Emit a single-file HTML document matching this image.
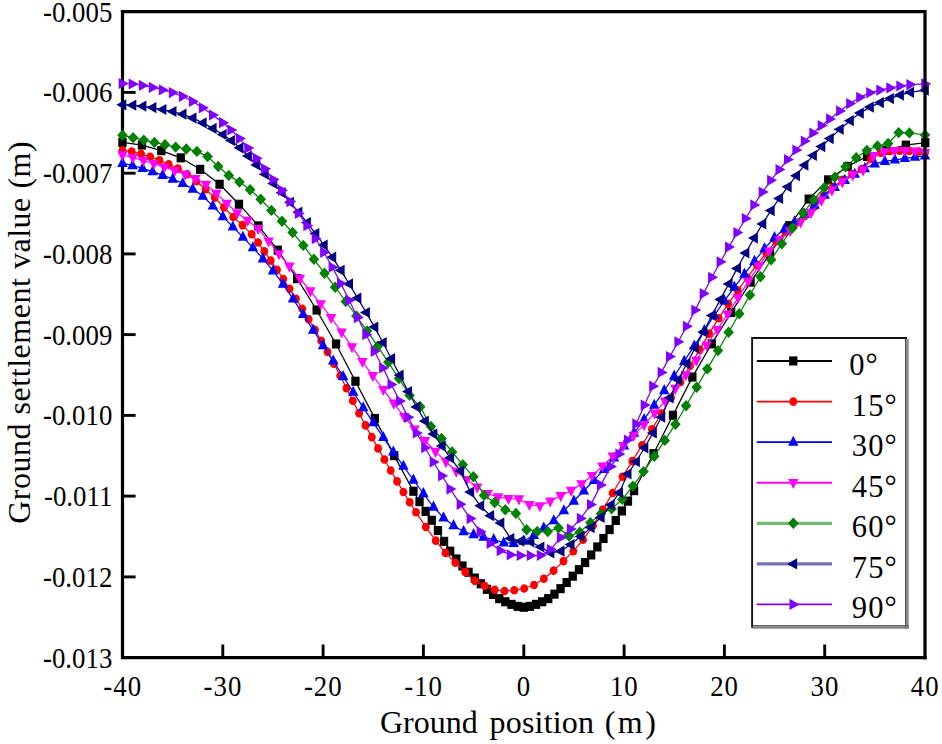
<!DOCTYPE html>
<html><head><meta charset="utf-8"><title>Ground settlement</title>
<style>html,body{margin:0;padding:0;background:#fff;}svg{display:block;}</style>
</head><body>
<svg width="942" height="744" viewBox="0 0 942 744" font-family="'Liberation Serif', serif" fill="#000">
<rect x="0" y="0" width="942" height="744" fill="#fff"/>
<path d="M122.5,10.1 L122.5,657.6 L926.6,657.6" fill="none" stroke="#000" stroke-width="3.2" stroke-linejoin="miter"/>
<text transform="translate(112.3,21.6) scale(0.925,1)" font-size="29" text-anchor="end">-0.005</text>
<line x1="122.5" y1="92.4" x2="135.6" y2="92.4" stroke="#000" stroke-width="2.9"/>
<text transform="translate(112.3,102.3) scale(0.925,1)" font-size="29" text-anchor="end">-0.006</text>
<line x1="122.5" y1="173.2" x2="135.6" y2="173.2" stroke="#000" stroke-width="2.9"/>
<text transform="translate(112.3,183.1) scale(0.925,1)" font-size="29" text-anchor="end">-0.007</text>
<line x1="122.5" y1="253.9" x2="135.6" y2="253.9" stroke="#000" stroke-width="2.9"/>
<text transform="translate(112.3,263.8) scale(0.925,1)" font-size="29" text-anchor="end">-0.008</text>
<line x1="122.5" y1="334.6" x2="135.6" y2="334.6" stroke="#000" stroke-width="2.9"/>
<text transform="translate(112.3,344.5) scale(0.925,1)" font-size="29" text-anchor="end">-0.009</text>
<line x1="122.5" y1="415.4" x2="135.6" y2="415.4" stroke="#000" stroke-width="2.9"/>
<text transform="translate(112.3,425.3) scale(0.925,1)" font-size="29" text-anchor="end">-0.010</text>
<line x1="122.5" y1="496.1" x2="135.6" y2="496.1" stroke="#000" stroke-width="2.9"/>
<text transform="translate(112.3,506.0) scale(0.925,1)" font-size="29" text-anchor="end">-0.011</text>
<line x1="122.5" y1="576.9" x2="135.6" y2="576.9" stroke="#000" stroke-width="2.9"/>
<text transform="translate(112.3,586.8) scale(0.925,1)" font-size="29" text-anchor="end">-0.012</text>
<text transform="translate(112.3,667.5) scale(0.925,1)" font-size="29" text-anchor="end">-0.013</text>
<text transform="translate(122.7,696.2) scale(0.925,1)" font-size="29" letter-spacing="1.1" text-anchor="middle">-40</text>
<line x1="222.8" y1="657.6" x2="222.8" y2="644.5" stroke="#000" stroke-width="2.9"/>
<text transform="translate(223.0,696.2) scale(0.925,1)" font-size="29" letter-spacing="1.1" text-anchor="middle">-30</text>
<line x1="323.1" y1="657.6" x2="323.1" y2="644.5" stroke="#000" stroke-width="2.9"/>
<text transform="translate(323.3,696.2) scale(0.925,1)" font-size="29" letter-spacing="1.1" text-anchor="middle">-20</text>
<line x1="423.4" y1="657.6" x2="423.4" y2="644.5" stroke="#000" stroke-width="2.9"/>
<text transform="translate(423.6,696.2) scale(0.925,1)" font-size="29" letter-spacing="1.1" text-anchor="middle">-10</text>
<line x1="523.8" y1="657.6" x2="523.8" y2="644.5" stroke="#000" stroke-width="2.9"/>
<text transform="translate(524.0,696.2) scale(0.925,1)" font-size="29" letter-spacing="1.1" text-anchor="middle">0</text>
<line x1="624.1" y1="657.6" x2="624.1" y2="644.5" stroke="#000" stroke-width="2.9"/>
<text transform="translate(624.3,696.2) scale(0.925,1)" font-size="29" letter-spacing="1.1" text-anchor="middle">10</text>
<line x1="724.4" y1="657.6" x2="724.4" y2="644.5" stroke="#000" stroke-width="2.9"/>
<text transform="translate(724.6,696.2) scale(0.925,1)" font-size="29" letter-spacing="1.1" text-anchor="middle">20</text>
<line x1="824.7" y1="657.6" x2="824.7" y2="644.5" stroke="#000" stroke-width="2.9"/>
<text transform="translate(824.9,696.2) scale(0.925,1)" font-size="29" letter-spacing="1.1" text-anchor="middle">30</text>
<text transform="translate(925.2,696.2) scale(0.925,1)" font-size="29" letter-spacing="1.1" text-anchor="middle">40</text>
<clipPath id="pc"><rect x="114.5" y="11.7" width="818.5" height="645.9"/></clipPath>
<g clip-path="url(#pc)">
<polyline points="122.5,142.4 141.9,145.1 161.3,150.6 180.7,157.8 200.1,169.3 219.6,184.3 239.0,204.2 258.4,225.8 277.8,250.2 297.2,278.6 316.6,310.0 336.0,344.0 355.4,381.2 374.8,418.4 394.2,455.6 413.4,491.2 419.5,501.7 425.7,511.3 431.8,520.2 437.9,530.5 444.1,541.3 450.2,551.2 456.3,559.0 462.4,565.9 468.6,572.3 474.7,578.0 480.8,583.7 487.0,589.3 493.1,594.4 499.2,598.7 505.4,601.7 511.5,604.3 517.6,606.4 523.8,607.2 529.9,606.4 536.0,604.4 542.1,601.7 548.3,598.6 554.4,594.1 560.5,588.7 566.7,582.5 572.8,576.2 578.9,569.6 585.1,562.5 591.2,555.0 597.3,546.9 603.4,538.4 609.6,529.6 615.7,520.4 621.8,511.0 628.0,501.2 634.1,490.6 653.5,453.7 672.9,415.2 692.3,377.1 711.7,343.8 731.1,312.6 750.6,282.2 770.0,253.4 789.4,225.6 808.8,199.0 828.2,179.9 847.6,166.4 867.0,156.5 886.4,150.1 905.8,145.2 925.3,142.7" fill="none" stroke="#000000" stroke-width="1.25"/>
<g><rect x="118.3" y="137.8" width="8.3" height="9.1" fill="#000000"/><rect x="137.8" y="140.5" width="8.3" height="9.1" fill="#000000"/><rect x="157.2" y="146.1" width="8.3" height="9.1" fill="#000000"/><rect x="176.6" y="153.3" width="8.3" height="9.1" fill="#000000"/><rect x="196.0" y="164.8" width="8.3" height="9.1" fill="#000000"/><rect x="215.4" y="179.7" width="8.3" height="9.1" fill="#000000"/><rect x="234.8" y="199.7" width="8.3" height="9.1" fill="#000000"/><rect x="254.2" y="221.3" width="8.3" height="9.1" fill="#000000"/><rect x="273.6" y="245.6" width="8.3" height="9.1" fill="#000000"/><rect x="293.0" y="274.1" width="8.3" height="9.1" fill="#000000"/><rect x="312.5" y="305.5" width="8.3" height="9.1" fill="#000000"/><rect x="331.9" y="339.4" width="8.3" height="9.1" fill="#000000"/><rect x="351.3" y="376.7" width="8.3" height="9.1" fill="#000000"/><rect x="370.7" y="413.9" width="8.3" height="9.1" fill="#000000"/><rect x="390.1" y="451.1" width="8.3" height="9.1" fill="#000000"/><rect x="409.3" y="486.7" width="8.3" height="9.1" fill="#000000"/><rect x="415.4" y="497.1" width="8.3" height="9.1" fill="#000000"/><rect x="421.5" y="506.8" width="8.3" height="9.1" fill="#000000"/><rect x="427.6" y="515.7" width="8.3" height="9.1" fill="#000000"/><rect x="433.8" y="526.0" width="8.3" height="9.1" fill="#000000"/><rect x="439.9" y="536.8" width="8.3" height="9.1" fill="#000000"/><rect x="446.0" y="546.6" width="8.3" height="9.1" fill="#000000"/><rect x="452.2" y="554.4" width="8.3" height="9.1" fill="#000000"/><rect x="458.3" y="561.4" width="8.3" height="9.1" fill="#000000"/><rect x="464.4" y="567.7" width="8.3" height="9.1" fill="#000000"/><rect x="470.6" y="573.5" width="8.3" height="9.1" fill="#000000"/><rect x="476.7" y="579.2" width="8.3" height="9.1" fill="#000000"/><rect x="482.8" y="584.8" width="8.3" height="9.1" fill="#000000"/><rect x="488.9" y="589.9" width="8.3" height="9.1" fill="#000000"/><rect x="495.1" y="594.1" width="8.3" height="9.1" fill="#000000"/><rect x="501.2" y="597.2" width="8.3" height="9.1" fill="#000000"/><rect x="507.3" y="599.8" width="8.3" height="9.1" fill="#000000"/><rect x="513.5" y="601.8" width="8.3" height="9.1" fill="#000000"/><rect x="519.6" y="602.7" width="8.3" height="9.1" fill="#000000"/><rect x="525.7" y="601.8" width="8.3" height="9.1" fill="#000000"/><rect x="531.9" y="599.8" width="8.3" height="9.1" fill="#000000"/><rect x="538.0" y="597.2" width="8.3" height="9.1" fill="#000000"/><rect x="544.1" y="594.1" width="8.3" height="9.1" fill="#000000"/><rect x="550.3" y="589.6" width="8.3" height="9.1" fill="#000000"/><rect x="556.4" y="584.1" width="8.3" height="9.1" fill="#000000"/><rect x="562.5" y="578.0" width="8.3" height="9.1" fill="#000000"/><rect x="568.6" y="571.6" width="8.3" height="9.1" fill="#000000"/><rect x="574.8" y="565.1" width="8.3" height="9.1" fill="#000000"/><rect x="580.9" y="558.0" width="8.3" height="9.1" fill="#000000"/><rect x="587.0" y="550.4" width="8.3" height="9.1" fill="#000000"/><rect x="593.2" y="542.4" width="8.3" height="9.1" fill="#000000"/><rect x="599.3" y="533.9" width="8.3" height="9.1" fill="#000000"/><rect x="605.4" y="525.0" width="8.3" height="9.1" fill="#000000"/><rect x="611.6" y="515.9" width="8.3" height="9.1" fill="#000000"/><rect x="617.7" y="506.4" width="8.3" height="9.1" fill="#000000"/><rect x="623.8" y="496.6" width="8.3" height="9.1" fill="#000000"/><rect x="629.9" y="486.1" width="8.3" height="9.1" fill="#000000"/><rect x="649.4" y="449.1" width="8.3" height="9.1" fill="#000000"/><rect x="668.8" y="410.7" width="8.3" height="9.1" fill="#000000"/><rect x="688.2" y="372.5" width="8.3" height="9.1" fill="#000000"/><rect x="707.6" y="339.3" width="8.3" height="9.1" fill="#000000"/><rect x="727.0" y="308.0" width="8.3" height="9.1" fill="#000000"/><rect x="746.4" y="277.6" width="8.3" height="9.1" fill="#000000"/><rect x="765.8" y="248.9" width="8.3" height="9.1" fill="#000000"/><rect x="785.2" y="221.1" width="8.3" height="9.1" fill="#000000"/><rect x="804.6" y="194.5" width="8.3" height="9.1" fill="#000000"/><rect x="824.0" y="175.3" width="8.3" height="9.1" fill="#000000"/><rect x="843.5" y="161.9" width="8.3" height="9.1" fill="#000000"/><rect x="862.9" y="152.0" width="8.3" height="9.1" fill="#000000"/><rect x="882.3" y="145.6" width="8.3" height="9.1" fill="#000000"/><rect x="901.7" y="140.6" width="8.3" height="9.1" fill="#000000"/><rect x="921.1" y="138.1" width="8.3" height="9.1" fill="#000000"/></g>
<polyline points="122.5,150.4 131.7,151.6 141.0,153.8 150.2,156.8 159.4,160.3 168.6,164.2 177.9,168.6 187.1,174.3 196.3,181.3 205.6,189.2 214.8,197.6 224.0,207.5 233.2,217.0 242.5,225.1 251.7,234.3 258.0,242.5 264.3,251.4 270.7,260.6 277.0,269.7 283.3,279.1 289.6,288.8 295.9,298.7 302.3,308.8 308.6,319.2 314.9,329.9 321.2,340.7 327.5,351.9 333.9,363.6 340.2,375.8 346.5,388.3 352.8,400.8 359.1,413.2 365.5,425.4 371.8,437.1 378.1,448.4 384.4,459.5 390.7,470.5 397.1,481.4 403.4,492.0 409.7,502.3 416.0,512.3 425.8,527.0 435.7,540.6 445.5,552.9 455.3,562.7 465.2,572.0 475.0,580.9 484.8,586.0 494.7,589.7 504.5,591.0 514.3,590.2 524.2,588.5 534.0,585.0 543.8,578.7 553.6,570.6 563.5,561.1 573.3,551.2 583.1,539.8 593.0,525.5 602.8,509.6 612.6,493.0 622.5,476.7 632.3,461.1 642.1,445.2 651.9,429.2 661.5,413.5 671.0,397.8 680.5,382.0 690.1,365.8 699.6,349.6 709.1,333.6 718.7,318.2 728.2,303.9 737.7,290.4 747.2,277.5 756.8,265.0 766.3,252.9 775.8,241.1 785.4,232.0 794.9,224.0 804.4,216.1 814.0,207.0 823.5,195.8 833.0,187.0 842.5,179.9 852.1,174.0 861.6,169.1 871.1,158.8 880.7,152.7 890.2,151.0 899.7,150.7 909.3,150.9 918.8,151.5 925.0,152.4" fill="none" stroke="#ff0000" stroke-width="1.25"/>
<g><ellipse cx="122.5" cy="150.4" rx="3.95" ry="4.3" fill="#ff0000"/><ellipse cx="131.7" cy="151.6" rx="3.95" ry="4.3" fill="#ff0000"/><ellipse cx="141.0" cy="153.8" rx="3.95" ry="4.3" fill="#ff0000"/><ellipse cx="150.2" cy="156.8" rx="3.95" ry="4.3" fill="#ff0000"/><ellipse cx="159.4" cy="160.3" rx="3.95" ry="4.3" fill="#ff0000"/><ellipse cx="168.6" cy="164.2" rx="3.95" ry="4.3" fill="#ff0000"/><ellipse cx="177.9" cy="168.6" rx="3.95" ry="4.3" fill="#ff0000"/><ellipse cx="187.1" cy="174.3" rx="3.95" ry="4.3" fill="#ff0000"/><ellipse cx="196.3" cy="181.3" rx="3.95" ry="4.3" fill="#ff0000"/><ellipse cx="205.6" cy="189.2" rx="3.95" ry="4.3" fill="#ff0000"/><ellipse cx="214.8" cy="197.6" rx="3.95" ry="4.3" fill="#ff0000"/><ellipse cx="224.0" cy="207.5" rx="3.95" ry="4.3" fill="#ff0000"/><ellipse cx="233.2" cy="217.0" rx="3.95" ry="4.3" fill="#ff0000"/><ellipse cx="242.5" cy="225.1" rx="3.95" ry="4.3" fill="#ff0000"/><ellipse cx="251.7" cy="234.3" rx="3.95" ry="4.3" fill="#ff0000"/><ellipse cx="258.0" cy="242.5" rx="3.95" ry="4.3" fill="#ff0000"/><ellipse cx="264.3" cy="251.4" rx="3.95" ry="4.3" fill="#ff0000"/><ellipse cx="270.7" cy="260.6" rx="3.95" ry="4.3" fill="#ff0000"/><ellipse cx="277.0" cy="269.7" rx="3.95" ry="4.3" fill="#ff0000"/><ellipse cx="283.3" cy="279.1" rx="3.95" ry="4.3" fill="#ff0000"/><ellipse cx="289.6" cy="288.8" rx="3.95" ry="4.3" fill="#ff0000"/><ellipse cx="295.9" cy="298.7" rx="3.95" ry="4.3" fill="#ff0000"/><ellipse cx="302.3" cy="308.8" rx="3.95" ry="4.3" fill="#ff0000"/><ellipse cx="308.6" cy="319.2" rx="3.95" ry="4.3" fill="#ff0000"/><ellipse cx="314.9" cy="329.9" rx="3.95" ry="4.3" fill="#ff0000"/><ellipse cx="321.2" cy="340.7" rx="3.95" ry="4.3" fill="#ff0000"/><ellipse cx="327.5" cy="351.9" rx="3.95" ry="4.3" fill="#ff0000"/><ellipse cx="333.9" cy="363.6" rx="3.95" ry="4.3" fill="#ff0000"/><ellipse cx="340.2" cy="375.8" rx="3.95" ry="4.3" fill="#ff0000"/><ellipse cx="346.5" cy="388.3" rx="3.95" ry="4.3" fill="#ff0000"/><ellipse cx="352.8" cy="400.8" rx="3.95" ry="4.3" fill="#ff0000"/><ellipse cx="359.1" cy="413.2" rx="3.95" ry="4.3" fill="#ff0000"/><ellipse cx="365.5" cy="425.4" rx="3.95" ry="4.3" fill="#ff0000"/><ellipse cx="371.8" cy="437.1" rx="3.95" ry="4.3" fill="#ff0000"/><ellipse cx="378.1" cy="448.4" rx="3.95" ry="4.3" fill="#ff0000"/><ellipse cx="384.4" cy="459.5" rx="3.95" ry="4.3" fill="#ff0000"/><ellipse cx="390.7" cy="470.5" rx="3.95" ry="4.3" fill="#ff0000"/><ellipse cx="397.1" cy="481.4" rx="3.95" ry="4.3" fill="#ff0000"/><ellipse cx="403.4" cy="492.0" rx="3.95" ry="4.3" fill="#ff0000"/><ellipse cx="409.7" cy="502.3" rx="3.95" ry="4.3" fill="#ff0000"/><ellipse cx="416.0" cy="512.3" rx="3.95" ry="4.3" fill="#ff0000"/><ellipse cx="425.8" cy="527.0" rx="3.95" ry="4.3" fill="#ff0000"/><ellipse cx="435.7" cy="540.6" rx="3.95" ry="4.3" fill="#ff0000"/><ellipse cx="445.5" cy="552.9" rx="3.95" ry="4.3" fill="#ff0000"/><ellipse cx="455.3" cy="562.7" rx="3.95" ry="4.3" fill="#ff0000"/><ellipse cx="465.2" cy="572.0" rx="3.95" ry="4.3" fill="#ff0000"/><ellipse cx="475.0" cy="580.9" rx="3.95" ry="4.3" fill="#ff0000"/><ellipse cx="484.8" cy="586.0" rx="3.95" ry="4.3" fill="#ff0000"/><ellipse cx="494.7" cy="589.7" rx="3.95" ry="4.3" fill="#ff0000"/><ellipse cx="504.5" cy="591.0" rx="3.95" ry="4.3" fill="#ff0000"/><ellipse cx="514.3" cy="590.2" rx="3.95" ry="4.3" fill="#ff0000"/><ellipse cx="524.2" cy="588.5" rx="3.95" ry="4.3" fill="#ff0000"/><ellipse cx="534.0" cy="585.0" rx="3.95" ry="4.3" fill="#ff0000"/><ellipse cx="543.8" cy="578.7" rx="3.95" ry="4.3" fill="#ff0000"/><ellipse cx="553.6" cy="570.6" rx="3.95" ry="4.3" fill="#ff0000"/><ellipse cx="563.5" cy="561.1" rx="3.95" ry="4.3" fill="#ff0000"/><ellipse cx="573.3" cy="551.2" rx="3.95" ry="4.3" fill="#ff0000"/><ellipse cx="583.1" cy="539.8" rx="3.95" ry="4.3" fill="#ff0000"/><ellipse cx="593.0" cy="525.5" rx="3.95" ry="4.3" fill="#ff0000"/><ellipse cx="602.8" cy="509.6" rx="3.95" ry="4.3" fill="#ff0000"/><ellipse cx="612.6" cy="493.0" rx="3.95" ry="4.3" fill="#ff0000"/><ellipse cx="622.5" cy="476.7" rx="3.95" ry="4.3" fill="#ff0000"/><ellipse cx="632.3" cy="461.1" rx="3.95" ry="4.3" fill="#ff0000"/><ellipse cx="642.1" cy="445.2" rx="3.95" ry="4.3" fill="#ff0000"/><ellipse cx="651.9" cy="429.2" rx="3.95" ry="4.3" fill="#ff0000"/><ellipse cx="661.5" cy="413.5" rx="3.95" ry="4.3" fill="#ff0000"/><ellipse cx="671.0" cy="397.8" rx="3.95" ry="4.3" fill="#ff0000"/><ellipse cx="680.5" cy="382.0" rx="3.95" ry="4.3" fill="#ff0000"/><ellipse cx="690.1" cy="365.8" rx="3.95" ry="4.3" fill="#ff0000"/><ellipse cx="699.6" cy="349.6" rx="3.95" ry="4.3" fill="#ff0000"/><ellipse cx="709.1" cy="333.6" rx="3.95" ry="4.3" fill="#ff0000"/><ellipse cx="718.7" cy="318.2" rx="3.95" ry="4.3" fill="#ff0000"/><ellipse cx="728.2" cy="303.9" rx="3.95" ry="4.3" fill="#ff0000"/><ellipse cx="737.7" cy="290.4" rx="3.95" ry="4.3" fill="#ff0000"/><ellipse cx="747.2" cy="277.5" rx="3.95" ry="4.3" fill="#ff0000"/><ellipse cx="756.8" cy="265.0" rx="3.95" ry="4.3" fill="#ff0000"/><ellipse cx="766.3" cy="252.9" rx="3.95" ry="4.3" fill="#ff0000"/><ellipse cx="775.8" cy="241.1" rx="3.95" ry="4.3" fill="#ff0000"/><ellipse cx="785.4" cy="232.0" rx="3.95" ry="4.3" fill="#ff0000"/><ellipse cx="794.9" cy="224.0" rx="3.95" ry="4.3" fill="#ff0000"/><ellipse cx="804.4" cy="216.1" rx="3.95" ry="4.3" fill="#ff0000"/><ellipse cx="814.0" cy="207.0" rx="3.95" ry="4.3" fill="#ff0000"/><ellipse cx="823.5" cy="195.8" rx="3.95" ry="4.3" fill="#ff0000"/><ellipse cx="833.0" cy="187.0" rx="3.95" ry="4.3" fill="#ff0000"/><ellipse cx="842.5" cy="179.9" rx="3.95" ry="4.3" fill="#ff0000"/><ellipse cx="852.1" cy="174.0" rx="3.95" ry="4.3" fill="#ff0000"/><ellipse cx="861.6" cy="169.1" rx="3.95" ry="4.3" fill="#ff0000"/><ellipse cx="871.1" cy="158.8" rx="3.95" ry="4.3" fill="#ff0000"/><ellipse cx="880.7" cy="152.7" rx="3.95" ry="4.3" fill="#ff0000"/><ellipse cx="890.2" cy="151.0" rx="3.95" ry="4.3" fill="#ff0000"/><ellipse cx="899.7" cy="150.7" rx="3.95" ry="4.3" fill="#ff0000"/><ellipse cx="909.3" cy="150.9" rx="3.95" ry="4.3" fill="#ff0000"/><ellipse cx="918.8" cy="151.5" rx="3.95" ry="4.3" fill="#ff0000"/><ellipse cx="925.0" cy="152.4" rx="3.95" ry="4.3" fill="#ff0000"/></g>
<polyline points="122.5,163.2 132.5,165.5 142.6,168.3 152.6,171.6 162.6,175.2 172.7,179.0 182.7,183.4 192.7,189.0 202.8,196.1 212.8,205.9 222.8,216.6 232.8,226.8 242.9,237.1 252.9,247.6 262.9,258.7 273.0,270.7 283.0,284.1 293.0,298.8 303.1,314.3 313.1,330.0 323.1,345.5 333.2,360.9 343.2,376.5 353.2,392.1 363.2,407.6 373.3,422.6 383.3,437.3 393.3,451.8 403.4,466.1 413.4,480.0 423.4,493.5 433.5,507.0 443.5,517.7 453.5,525.5 463.6,531.5 473.6,534.5 483.6,537.1 493.7,539.5 503.7,542.7 513.7,543.2 523.8,541.0 533.8,535.2 543.8,527.8 553.8,520.6 563.9,510.6 573.9,501.0 583.9,490.8 594.0,480.3 604.0,469.3 614.0,457.8 624.1,445.8 634.1,433.0 644.1,419.3 654.2,405.1 664.2,390.5 674.2,376.0 684.2,361.2 694.3,345.9 704.3,330.5 714.3,315.4 724.4,300.9 734.4,287.2 744.4,274.0 754.5,261.2 764.5,248.6 774.5,237.5 784.6,229.0 794.6,221.7 804.6,214.2 814.7,205.0 824.7,195.0 834.7,187.2 844.8,180.2 854.8,174.1 864.8,168.5 874.8,163.8 884.9,161.4 894.9,159.8 904.9,158.4 915.0,157.0 925.0,155.8" fill="none" stroke="#0000ff" stroke-width="1.25"/>
<g><polygon points="122.5,156.8 127.7,166.9 117.3,166.9" fill="#0000ff"/><polygon points="132.5,159.1 137.7,169.2 127.3,169.2" fill="#0000ff"/><polygon points="142.6,161.9 147.8,172.0 137.4,172.0" fill="#0000ff"/><polygon points="152.6,165.2 157.8,175.3 147.4,175.3" fill="#0000ff"/><polygon points="162.6,168.8 167.8,178.9 157.4,178.9" fill="#0000ff"/><polygon points="172.7,172.6 177.9,182.7 167.5,182.7" fill="#0000ff"/><polygon points="182.7,177.0 187.9,187.1 177.5,187.1" fill="#0000ff"/><polygon points="192.7,182.6 197.9,192.7 187.5,192.7" fill="#0000ff"/><polygon points="202.8,189.7 207.9,199.8 197.6,199.8" fill="#0000ff"/><polygon points="212.8,199.5 218.0,209.6 207.6,209.6" fill="#0000ff"/><polygon points="222.8,210.2 228.0,220.3 217.6,220.3" fill="#0000ff"/><polygon points="232.8,220.4 238.0,230.5 227.6,230.5" fill="#0000ff"/><polygon points="242.9,230.7 248.1,240.8 237.7,240.8" fill="#0000ff"/><polygon points="252.9,241.2 258.1,251.3 247.7,251.3" fill="#0000ff"/><polygon points="262.9,252.3 268.1,262.4 257.7,262.4" fill="#0000ff"/><polygon points="273.0,264.3 278.2,274.4 267.8,274.4" fill="#0000ff"/><polygon points="283.0,277.7 288.2,287.8 277.8,287.8" fill="#0000ff"/><polygon points="293.0,292.4 298.2,302.5 287.8,302.5" fill="#0000ff"/><polygon points="303.1,307.9 308.3,318.0 297.9,318.0" fill="#0000ff"/><polygon points="313.1,323.6 318.3,333.7 307.9,333.7" fill="#0000ff"/><polygon points="323.1,339.1 328.3,349.2 317.9,349.2" fill="#0000ff"/><polygon points="333.2,354.5 338.4,364.6 328.0,364.6" fill="#0000ff"/><polygon points="343.2,370.1 348.4,380.2 338.0,380.2" fill="#0000ff"/><polygon points="353.2,385.7 358.4,395.8 348.0,395.8" fill="#0000ff"/><polygon points="363.2,401.2 368.4,411.3 358.1,411.3" fill="#0000ff"/><polygon points="373.3,416.2 378.5,426.3 368.1,426.3" fill="#0000ff"/><polygon points="383.3,430.9 388.5,441.0 378.1,441.0" fill="#0000ff"/><polygon points="393.3,445.4 398.5,455.5 388.1,455.5" fill="#0000ff"/><polygon points="403.4,459.7 408.6,469.8 398.2,469.8" fill="#0000ff"/><polygon points="413.4,473.6 418.6,483.7 408.2,483.7" fill="#0000ff"/><polygon points="423.4,487.1 428.6,497.2 418.2,497.2" fill="#0000ff"/><polygon points="433.5,500.6 438.7,510.7 428.3,510.7" fill="#0000ff"/><polygon points="443.5,511.3 448.7,521.4 438.3,521.4" fill="#0000ff"/><polygon points="453.5,519.1 458.7,529.2 448.3,529.2" fill="#0000ff"/><polygon points="463.6,525.1 468.8,535.2 458.4,535.2" fill="#0000ff"/><polygon points="473.6,528.1 478.8,538.2 468.4,538.2" fill="#0000ff"/><polygon points="483.6,530.7 488.8,540.8 478.4,540.8" fill="#0000ff"/><polygon points="493.7,533.1 498.9,543.2 488.5,543.2" fill="#0000ff"/><polygon points="503.7,536.3 508.9,546.4 498.5,546.4" fill="#0000ff"/><polygon points="513.7,536.8 518.9,546.9 508.5,546.9" fill="#0000ff"/><polygon points="523.8,534.6 529.0,544.7 518.5,544.7" fill="#0000ff"/><polygon points="533.8,528.8 539.0,538.9 528.6,538.9" fill="#0000ff"/><polygon points="543.8,521.4 549.0,531.5 538.6,531.5" fill="#0000ff"/><polygon points="553.8,514.2 559.0,524.3 548.6,524.3" fill="#0000ff"/><polygon points="563.9,504.2 569.1,514.3 558.7,514.3" fill="#0000ff"/><polygon points="573.9,494.6 579.1,504.7 568.7,504.7" fill="#0000ff"/><polygon points="583.9,484.4 589.1,494.5 578.7,494.5" fill="#0000ff"/><polygon points="594.0,473.9 599.2,484.0 588.8,484.0" fill="#0000ff"/><polygon points="604.0,462.9 609.2,473.0 598.8,473.0" fill="#0000ff"/><polygon points="614.0,451.4 619.2,461.5 608.8,461.5" fill="#0000ff"/><polygon points="624.1,439.4 629.3,449.5 618.9,449.5" fill="#0000ff"/><polygon points="634.1,426.6 639.3,436.7 628.9,436.7" fill="#0000ff"/><polygon points="644.1,412.9 649.3,423.0 638.9,423.0" fill="#0000ff"/><polygon points="654.2,398.7 659.4,408.8 649.0,408.8" fill="#0000ff"/><polygon points="664.2,384.1 669.4,394.2 659.0,394.2" fill="#0000ff"/><polygon points="674.2,369.6 679.4,379.7 669.0,379.7" fill="#0000ff"/><polygon points="684.2,354.8 689.5,364.9 679.0,364.9" fill="#0000ff"/><polygon points="694.3,339.5 699.5,349.6 689.1,349.6" fill="#0000ff"/><polygon points="704.3,324.1 709.5,334.2 699.1,334.2" fill="#0000ff"/><polygon points="714.3,309.0 719.5,319.1 709.1,319.1" fill="#0000ff"/><polygon points="724.4,294.5 729.6,304.6 719.2,304.6" fill="#0000ff"/><polygon points="734.4,280.8 739.6,290.9 729.2,290.9" fill="#0000ff"/><polygon points="744.4,267.6 749.6,277.7 739.2,277.7" fill="#0000ff"/><polygon points="754.5,254.8 759.7,264.9 749.3,264.9" fill="#0000ff"/><polygon points="764.5,242.2 769.7,252.3 759.3,252.3" fill="#0000ff"/><polygon points="774.5,231.1 779.7,241.2 769.3,241.2" fill="#0000ff"/><polygon points="784.6,222.6 789.8,232.7 779.4,232.7" fill="#0000ff"/><polygon points="794.6,215.3 799.8,225.4 789.4,225.4" fill="#0000ff"/><polygon points="804.6,207.8 809.8,217.9 799.4,217.9" fill="#0000ff"/><polygon points="814.7,198.6 819.9,208.7 809.5,208.7" fill="#0000ff"/><polygon points="824.7,188.6 829.9,198.7 819.5,198.7" fill="#0000ff"/><polygon points="834.7,180.8 839.9,190.9 829.5,190.9" fill="#0000ff"/><polygon points="844.8,173.8 850.0,183.9 839.5,183.9" fill="#0000ff"/><polygon points="854.8,167.7 860.0,177.8 849.6,177.8" fill="#0000ff"/><polygon points="864.8,162.1 870.0,172.2 859.6,172.2" fill="#0000ff"/><polygon points="874.8,157.4 880.0,167.5 869.6,167.5" fill="#0000ff"/><polygon points="884.9,155.0 890.1,165.1 879.7,165.1" fill="#0000ff"/><polygon points="894.9,153.4 900.1,163.5 889.7,163.5" fill="#0000ff"/><polygon points="904.9,152.0 910.1,162.1 899.7,162.1" fill="#0000ff"/><polygon points="915.0,150.6 920.2,160.7 909.8,160.7" fill="#0000ff"/><polygon points="925.0,149.4 930.2,159.5 919.8,159.5" fill="#0000ff"/></g>
<polyline points="122.5,155.0 132.9,157.6 143.4,160.5 153.8,163.7 164.2,167.1 174.7,170.7 185.1,174.4 195.5,178.7 206.0,184.5 216.4,193.4 226.8,203.4 237.3,212.9 247.7,220.4 258.1,228.7 268.6,241.1 279.0,253.9 289.4,266.3 299.9,278.5 310.3,291.0 320.7,303.9 331.1,317.6 341.6,332.1 352.0,346.9 362.4,361.6 372.9,375.8 383.3,389.6 393.7,403.3 404.2,416.6 414.6,429.2 425.0,440.7 435.5,451.5 445.9,461.8 456.3,471.3 466.8,479.8 477.2,487.2 487.6,493.7 498.1,497.0 508.5,498.7 518.9,499.0 529.4,504.6 539.8,505.9 550.2,501.1 560.7,495.8 571.1,490.5 581.5,483.9 592.0,475.6 602.4,466.2 612.8,456.1 623.3,445.8 633.7,435.4 644.1,424.6 654.6,413.1 665.0,401.1 675.4,388.5 685.9,374.9 696.3,360.4 706.7,345.2 717.2,329.7 727.6,314.2 738.0,297.8 748.4,281.4 758.9,266.0 769.3,251.3 779.7,239.7 790.2,230.6 800.6,222.2 811.0,212.8 821.5,200.3 831.9,190.0 842.3,181.8 852.8,175.0 863.2,170.0 873.6,155.8 884.1,152.0 894.5,150.7 904.9,150.7 915.4,151.2 925.0,152.4" fill="none" stroke="#ff00ff" stroke-width="1.25"/>
<g><polygon points="122.5,161.4 127.7,151.3 117.3,151.3" fill="#ff00ff"/><polygon points="132.9,164.0 138.1,153.9 127.7,153.9" fill="#ff00ff"/><polygon points="143.4,166.9 148.6,156.8 138.2,156.8" fill="#ff00ff"/><polygon points="153.8,170.1 159.0,160.0 148.6,160.0" fill="#ff00ff"/><polygon points="164.2,173.5 169.4,163.4 159.0,163.4" fill="#ff00ff"/><polygon points="174.7,177.1 179.9,167.0 169.5,167.0" fill="#ff00ff"/><polygon points="185.1,180.8 190.3,170.7 179.9,170.7" fill="#ff00ff"/><polygon points="195.5,185.1 200.7,175.0 190.3,175.0" fill="#ff00ff"/><polygon points="206.0,190.9 211.2,180.8 200.8,180.8" fill="#ff00ff"/><polygon points="216.4,199.8 221.6,189.7 211.2,189.7" fill="#ff00ff"/><polygon points="226.8,209.8 232.0,199.7 221.6,199.7" fill="#ff00ff"/><polygon points="237.3,219.3 242.5,209.2 232.1,209.2" fill="#ff00ff"/><polygon points="247.7,226.8 252.9,216.7 242.5,216.7" fill="#ff00ff"/><polygon points="258.1,235.1 263.3,225.0 252.9,225.0" fill="#ff00ff"/><polygon points="268.6,247.5 273.8,237.4 263.4,237.4" fill="#ff00ff"/><polygon points="279.0,260.3 284.2,250.2 273.8,250.2" fill="#ff00ff"/><polygon points="289.4,272.7 294.6,262.6 284.2,262.6" fill="#ff00ff"/><polygon points="299.9,284.9 305.1,274.8 294.7,274.8" fill="#ff00ff"/><polygon points="310.3,297.4 315.5,287.3 305.1,287.3" fill="#ff00ff"/><polygon points="320.7,310.3 325.9,300.2 315.5,300.2" fill="#ff00ff"/><polygon points="331.1,324.0 336.3,313.9 325.9,313.9" fill="#ff00ff"/><polygon points="341.6,338.5 346.8,328.4 336.4,328.4" fill="#ff00ff"/><polygon points="352.0,353.3 357.2,343.2 346.8,343.2" fill="#ff00ff"/><polygon points="362.4,368.0 367.6,357.9 357.2,357.9" fill="#ff00ff"/><polygon points="372.9,382.2 378.1,372.1 367.7,372.1" fill="#ff00ff"/><polygon points="383.3,396.0 388.5,385.9 378.1,385.9" fill="#ff00ff"/><polygon points="393.7,409.7 398.9,399.6 388.5,399.6" fill="#ff00ff"/><polygon points="404.2,423.0 409.4,412.9 399.0,412.9" fill="#ff00ff"/><polygon points="414.6,435.6 419.8,425.5 409.4,425.5" fill="#ff00ff"/><polygon points="425.0,447.1 430.2,437.0 419.8,437.0" fill="#ff00ff"/><polygon points="435.5,457.9 440.7,447.8 430.3,447.8" fill="#ff00ff"/><polygon points="445.9,468.2 451.1,458.1 440.7,458.1" fill="#ff00ff"/><polygon points="456.3,477.7 461.5,467.6 451.1,467.6" fill="#ff00ff"/><polygon points="466.8,486.2 472.0,476.1 461.6,476.1" fill="#ff00ff"/><polygon points="477.2,493.6 482.4,483.5 472.0,483.5" fill="#ff00ff"/><polygon points="487.6,500.1 492.8,490.0 482.4,490.0" fill="#ff00ff"/><polygon points="498.1,503.4 503.3,493.3 492.9,493.3" fill="#ff00ff"/><polygon points="508.5,505.1 513.7,495.0 503.3,495.0" fill="#ff00ff"/><polygon points="518.9,505.4 524.1,495.3 513.7,495.3" fill="#ff00ff"/><polygon points="529.4,511.0 534.6,500.9 524.2,500.9" fill="#ff00ff"/><polygon points="539.8,512.3 545.0,502.2 534.6,502.2" fill="#ff00ff"/><polygon points="550.2,507.5 555.4,497.4 545.0,497.4" fill="#ff00ff"/><polygon points="560.7,502.2 565.9,492.1 555.5,492.1" fill="#ff00ff"/><polygon points="571.1,496.9 576.3,486.8 565.9,486.8" fill="#ff00ff"/><polygon points="581.5,490.3 586.7,480.2 576.3,480.2" fill="#ff00ff"/><polygon points="592.0,482.0 597.2,471.9 586.8,471.9" fill="#ff00ff"/><polygon points="602.4,472.6 607.6,462.5 597.2,462.5" fill="#ff00ff"/><polygon points="612.8,462.5 618.0,452.4 607.6,452.4" fill="#ff00ff"/><polygon points="623.3,452.2 628.5,442.1 618.1,442.1" fill="#ff00ff"/><polygon points="633.7,441.8 638.9,431.7 628.5,431.7" fill="#ff00ff"/><polygon points="644.1,431.0 649.3,420.9 638.9,420.9" fill="#ff00ff"/><polygon points="654.6,419.5 659.8,409.4 649.4,409.4" fill="#ff00ff"/><polygon points="665.0,407.5 670.2,397.4 659.8,397.4" fill="#ff00ff"/><polygon points="675.4,394.9 680.6,384.8 670.2,384.8" fill="#ff00ff"/><polygon points="685.9,381.3 691.1,371.2 680.7,371.2" fill="#ff00ff"/><polygon points="696.3,366.8 701.5,356.7 691.1,356.7" fill="#ff00ff"/><polygon points="706.7,351.6 711.9,341.5 701.5,341.5" fill="#ff00ff"/><polygon points="717.2,336.1 722.4,326.0 712.0,326.0" fill="#ff00ff"/><polygon points="727.6,320.6 732.8,310.5 722.4,310.5" fill="#ff00ff"/><polygon points="738.0,304.2 743.2,294.1 732.8,294.1" fill="#ff00ff"/><polygon points="748.4,287.8 753.6,277.7 743.2,277.7" fill="#ff00ff"/><polygon points="758.9,272.4 764.1,262.3 753.7,262.3" fill="#ff00ff"/><polygon points="769.3,257.7 774.5,247.6 764.1,247.6" fill="#ff00ff"/><polygon points="779.7,246.1 784.9,236.0 774.5,236.0" fill="#ff00ff"/><polygon points="790.2,237.0 795.4,226.9 785.0,226.9" fill="#ff00ff"/><polygon points="800.6,228.6 805.8,218.5 795.4,218.5" fill="#ff00ff"/><polygon points="811.0,219.2 816.2,209.1 805.8,209.1" fill="#ff00ff"/><polygon points="821.5,206.7 826.7,196.6 816.3,196.6" fill="#ff00ff"/><polygon points="831.9,196.4 837.1,186.3 826.7,186.3" fill="#ff00ff"/><polygon points="842.3,188.2 847.5,178.1 837.1,178.1" fill="#ff00ff"/><polygon points="852.8,181.4 858.0,171.3 847.6,171.3" fill="#ff00ff"/><polygon points="863.2,176.4 868.4,166.3 858.0,166.3" fill="#ff00ff"/><polygon points="873.6,162.2 878.8,152.1 868.4,152.1" fill="#ff00ff"/><polygon points="884.1,158.4 889.3,148.3 878.9,148.3" fill="#ff00ff"/><polygon points="894.5,157.1 899.7,147.0 889.3,147.0" fill="#ff00ff"/><polygon points="904.9,157.1 910.1,147.0 899.7,147.0" fill="#ff00ff"/><polygon points="915.4,157.6 920.6,147.5 910.2,147.5" fill="#ff00ff"/><polygon points="925.0,158.8 930.2,148.7 919.8,148.7" fill="#ff00ff"/></g>
<polyline points="122.5,135.3 133.1,137.7 143.8,140.1 154.4,142.4 165.0,144.8 175.7,147.1 186.3,149.0 196.9,151.4 207.6,156.6 218.2,166.5 228.8,175.4 239.5,182.1 250.1,189.7 260.7,199.2 271.4,210.4 282.0,221.3 292.6,232.5 303.3,245.4 313.9,259.3 324.5,273.2 335.2,287.2 345.8,301.5 356.4,316.0 367.1,330.9 377.7,346.2 388.3,362.3 399.0,378.6 409.6,395.4 420.2,406.8 430.9,426.5 441.5,438.5 452.1,451.9 462.8,464.8 473.4,476.8 484.0,495.4 494.7,502.5 505.3,509.7 515.9,513.4 526.6,529.8 537.2,531.5 547.8,531.5 558.5,527.9 569.1,536.0 579.7,532.2 590.4,522.6 601.0,513.7 611.6,508.7 622.3,499.4 632.9,486.1 643.5,471.6 654.2,456.3 664.8,440.4 675.4,424.2 686.1,405.7 696.7,387.3 707.3,368.9 718.0,350.6 728.6,332.3 739.2,313.7 749.9,295.0 760.5,276.8 771.1,259.7 781.8,243.7 792.4,228.1 803.0,213.3 813.7,199.7 824.3,187.8 834.9,177.1 845.6,166.8 856.2,157.7 866.8,150.5 877.5,145.9 888.1,143.5 898.7,132.6 909.4,132.9 925.0,135.0" fill="none" stroke="#008000" stroke-width="1.25"/>
<g><polygon points="122.5,129.6 127.8,135.3 122.5,141.0 117.2,135.3" fill="#008000"/><polygon points="133.1,132.0 138.4,137.7 133.1,143.4 127.8,137.7" fill="#008000"/><polygon points="143.8,134.4 149.1,140.1 143.8,145.8 138.5,140.1" fill="#008000"/><polygon points="154.4,136.7 159.7,142.4 154.4,148.1 149.1,142.4" fill="#008000"/><polygon points="165.0,139.1 170.3,144.8 165.0,150.5 159.7,144.8" fill="#008000"/><polygon points="175.7,141.4 181.0,147.1 175.7,152.8 170.4,147.1" fill="#008000"/><polygon points="186.3,143.3 191.6,149.0 186.3,154.7 181.0,149.0" fill="#008000"/><polygon points="196.9,145.7 202.2,151.4 196.9,157.1 191.6,151.4" fill="#008000"/><polygon points="207.6,150.9 212.9,156.6 207.6,162.3 202.3,156.6" fill="#008000"/><polygon points="218.2,160.8 223.5,166.5 218.2,172.2 212.9,166.5" fill="#008000"/><polygon points="228.8,169.7 234.1,175.4 228.8,181.1 223.5,175.4" fill="#008000"/><polygon points="239.5,176.4 244.8,182.1 239.5,187.8 234.2,182.1" fill="#008000"/><polygon points="250.1,184.0 255.4,189.7 250.1,195.4 244.8,189.7" fill="#008000"/><polygon points="260.7,193.5 266.0,199.2 260.7,204.9 255.4,199.2" fill="#008000"/><polygon points="271.4,204.7 276.7,210.4 271.4,216.1 266.1,210.4" fill="#008000"/><polygon points="282.0,215.6 287.3,221.3 282.0,227.0 276.7,221.3" fill="#008000"/><polygon points="292.6,226.8 297.9,232.5 292.6,238.2 287.3,232.5" fill="#008000"/><polygon points="303.3,239.7 308.6,245.4 303.3,251.1 298.0,245.4" fill="#008000"/><polygon points="313.9,253.6 319.2,259.3 313.9,265.0 308.6,259.3" fill="#008000"/><polygon points="324.5,267.5 329.8,273.2 324.5,278.9 319.2,273.2" fill="#008000"/><polygon points="335.2,281.5 340.5,287.2 335.2,292.9 329.9,287.2" fill="#008000"/><polygon points="345.8,295.8 351.1,301.5 345.8,307.2 340.5,301.5" fill="#008000"/><polygon points="356.4,310.3 361.7,316.0 356.4,321.7 351.1,316.0" fill="#008000"/><polygon points="367.1,325.2 372.4,330.9 367.1,336.6 361.8,330.9" fill="#008000"/><polygon points="377.7,340.5 383.0,346.2 377.7,351.9 372.4,346.2" fill="#008000"/><polygon points="388.3,356.6 393.6,362.3 388.3,368.0 383.0,362.3" fill="#008000"/><polygon points="399.0,372.9 404.3,378.6 399.0,384.3 393.7,378.6" fill="#008000"/><polygon points="409.6,389.7 414.9,395.4 409.6,401.1 404.3,395.4" fill="#008000"/><polygon points="420.2,401.1 425.5,406.8 420.2,412.5 414.9,406.8" fill="#008000"/><polygon points="430.9,420.8 436.2,426.5 430.9,432.2 425.6,426.5" fill="#008000"/><polygon points="441.5,432.8 446.8,438.5 441.5,444.2 436.2,438.5" fill="#008000"/><polygon points="452.1,446.2 457.4,451.9 452.1,457.6 446.8,451.9" fill="#008000"/><polygon points="462.8,459.1 468.1,464.8 462.8,470.5 457.5,464.8" fill="#008000"/><polygon points="473.4,471.1 478.7,476.8 473.4,482.5 468.1,476.8" fill="#008000"/><polygon points="484.0,489.7 489.3,495.4 484.0,501.1 478.7,495.4" fill="#008000"/><polygon points="494.7,496.8 500.0,502.5 494.7,508.2 489.4,502.5" fill="#008000"/><polygon points="505.3,504.0 510.6,509.7 505.3,515.4 500.0,509.7" fill="#008000"/><polygon points="515.9,507.7 521.2,513.4 515.9,519.1 510.6,513.4" fill="#008000"/><polygon points="526.6,524.1 531.9,529.8 526.6,535.5 521.3,529.8" fill="#008000"/><polygon points="537.2,525.8 542.5,531.5 537.2,537.2 531.9,531.5" fill="#008000"/><polygon points="547.8,525.8 553.1,531.5 547.8,537.2 542.5,531.5" fill="#008000"/><polygon points="558.5,522.2 563.8,527.9 558.5,533.6 553.2,527.9" fill="#008000"/><polygon points="569.1,530.3 574.4,536.0 569.1,541.7 563.8,536.0" fill="#008000"/><polygon points="579.7,526.5 585.0,532.2 579.7,537.9 574.4,532.2" fill="#008000"/><polygon points="590.4,516.9 595.7,522.6 590.4,528.3 585.1,522.6" fill="#008000"/><polygon points="601.0,508.0 606.3,513.7 601.0,519.4 595.7,513.7" fill="#008000"/><polygon points="611.6,503.0 616.9,508.7 611.6,514.4 606.3,508.7" fill="#008000"/><polygon points="622.3,493.7 627.6,499.4 622.3,505.1 617.0,499.4" fill="#008000"/><polygon points="632.9,480.4 638.2,486.1 632.9,491.8 627.6,486.1" fill="#008000"/><polygon points="643.5,465.9 648.8,471.6 643.5,477.3 638.2,471.6" fill="#008000"/><polygon points="654.2,450.6 659.5,456.3 654.2,462.0 648.9,456.3" fill="#008000"/><polygon points="664.8,434.7 670.1,440.4 664.8,446.1 659.5,440.4" fill="#008000"/><polygon points="675.4,418.5 680.7,424.2 675.4,429.9 670.1,424.2" fill="#008000"/><polygon points="686.1,400.0 691.4,405.7 686.1,411.4 680.8,405.7" fill="#008000"/><polygon points="696.7,381.6 702.0,387.3 696.7,393.0 691.4,387.3" fill="#008000"/><polygon points="707.3,363.2 712.6,368.9 707.3,374.6 702.0,368.9" fill="#008000"/><polygon points="718.0,344.9 723.3,350.6 718.0,356.3 712.7,350.6" fill="#008000"/><polygon points="728.6,326.6 733.9,332.3 728.6,338.0 723.3,332.3" fill="#008000"/><polygon points="739.2,308.0 744.5,313.7 739.2,319.4 733.9,313.7" fill="#008000"/><polygon points="749.9,289.3 755.2,295.0 749.9,300.7 744.6,295.0" fill="#008000"/><polygon points="760.5,271.1 765.8,276.8 760.5,282.5 755.2,276.8" fill="#008000"/><polygon points="771.1,254.0 776.4,259.7 771.1,265.4 765.8,259.7" fill="#008000"/><polygon points="781.8,238.0 787.1,243.7 781.8,249.4 776.5,243.7" fill="#008000"/><polygon points="792.4,222.4 797.7,228.1 792.4,233.8 787.1,228.1" fill="#008000"/><polygon points="803.0,207.6 808.3,213.3 803.0,219.0 797.7,213.3" fill="#008000"/><polygon points="813.7,194.0 819.0,199.7 813.7,205.4 808.4,199.7" fill="#008000"/><polygon points="824.3,182.1 829.6,187.8 824.3,193.5 819.0,187.8" fill="#008000"/><polygon points="834.9,171.4 840.2,177.1 834.9,182.8 829.6,177.1" fill="#008000"/><polygon points="845.6,161.1 850.9,166.8 845.6,172.5 840.3,166.8" fill="#008000"/><polygon points="856.2,152.0 861.5,157.7 856.2,163.4 850.9,157.7" fill="#008000"/><polygon points="866.8,144.8 872.1,150.5 866.8,156.2 861.5,150.5" fill="#008000"/><polygon points="877.5,140.2 882.8,145.9 877.5,151.6 872.2,145.9" fill="#008000"/><polygon points="888.1,137.8 893.4,143.5 888.1,149.2 882.8,143.5" fill="#008000"/><polygon points="898.7,126.9 904.0,132.6 898.7,138.3 893.4,132.6" fill="#008000"/><polygon points="909.4,127.2 914.7,132.9 909.4,138.6 904.1,132.9" fill="#008000"/><polygon points="925.0,129.3 930.3,135.0 925.0,140.7 919.7,135.0" fill="#008000"/></g>
<polyline points="122.5,104.8 132.5,105.2 142.6,106.2 152.6,107.6 162.6,109.5 172.7,111.5 182.7,114.2 192.7,118.1 202.8,122.9 212.8,128.4 222.8,134.5 231.2,140.5 239.7,147.8 248.1,156.1 256.5,165.0 264.9,174.2 273.4,183.4 281.8,192.7 290.2,202.3 298.6,212.2 307.1,222.6 315.5,233.6 323.9,245.0 332.4,257.2 340.8,270.3 349.2,283.9 357.6,298.1 366.1,312.5 374.5,327.1 382.9,342.5 391.3,358.7 399.8,375.2 408.2,391.5 416.6,406.9 425.0,421.1 433.5,434.0 441.9,446.1 450.3,457.8 460.4,470.9 470.4,492.1 480.4,505.8 490.4,515.7 500.5,523.0 510.5,538.5 520.5,541.2 530.6,541.8 540.6,547.0 550.6,552.9 560.7,551.2 570.7,544.6 580.7,536.4 590.8,527.6 600.8,517.4 610.8,504.9 619.2,492.7 627.7,474.0 636.1,461.7 644.5,447.8 653.0,432.9 661.4,417.2 669.8,397.8 678.2,379.9 686.7,363.7 695.1,348.0 703.5,331.9 711.9,315.5 720.4,299.4 728.8,283.9 737.2,268.4 745.6,253.0 754.1,238.1 762.5,223.9 770.9,210.6 779.3,198.4 787.8,186.8 796.2,175.7 804.6,165.2 813.1,155.5 821.5,146.6 829.9,138.6 839.9,129.3 850.0,120.7 860.0,113.1 870.0,107.1 880.1,102.6 890.1,98.6 900.1,95.1 910.2,92.3 925.0,90.2" fill="none" stroke="#000080" stroke-width="1.25"/>
<g><polygon points="116.3,104.8 126.3,99.2 126.3,110.4" fill="#000080"/><polygon points="126.3,105.2 136.3,99.6 136.3,110.8" fill="#000080"/><polygon points="136.4,106.2 146.4,100.6 146.4,111.8" fill="#000080"/><polygon points="146.4,107.6 156.4,102.0 156.4,113.2" fill="#000080"/><polygon points="156.4,109.5 166.4,103.9 166.4,115.1" fill="#000080"/><polygon points="166.5,111.5 176.5,105.9 176.5,117.1" fill="#000080"/><polygon points="176.5,114.2 186.5,108.6 186.5,119.8" fill="#000080"/><polygon points="186.5,118.1 196.5,112.5 196.5,123.7" fill="#000080"/><polygon points="196.6,122.9 206.6,117.3 206.6,128.5" fill="#000080"/><polygon points="206.6,128.4 216.6,122.8 216.6,134.0" fill="#000080"/><polygon points="216.6,134.5 226.6,128.9 226.6,140.1" fill="#000080"/><polygon points="225.0,140.5 235.0,134.9 235.0,146.1" fill="#000080"/><polygon points="233.5,147.8 243.5,142.2 243.5,153.4" fill="#000080"/><polygon points="241.9,156.1 251.9,150.5 251.9,161.7" fill="#000080"/><polygon points="250.3,165.0 260.3,159.4 260.3,170.6" fill="#000080"/><polygon points="258.7,174.2 268.7,168.6 268.7,179.8" fill="#000080"/><polygon points="267.2,183.4 277.2,177.8 277.2,189.0" fill="#000080"/><polygon points="275.6,192.7 285.6,187.1 285.6,198.3" fill="#000080"/><polygon points="284.0,202.3 294.0,196.7 294.0,207.9" fill="#000080"/><polygon points="292.4,212.2 302.4,206.6 302.4,217.8" fill="#000080"/><polygon points="300.9,222.6 310.9,217.0 310.9,228.2" fill="#000080"/><polygon points="309.3,233.6 319.3,228.0 319.3,239.2" fill="#000080"/><polygon points="317.7,245.0 327.7,239.4 327.7,250.6" fill="#000080"/><polygon points="326.2,257.2 336.2,251.6 336.2,262.8" fill="#000080"/><polygon points="334.6,270.3 344.6,264.7 344.6,275.9" fill="#000080"/><polygon points="343.0,283.9 353.0,278.3 353.0,289.5" fill="#000080"/><polygon points="351.4,298.1 361.4,292.5 361.4,303.7" fill="#000080"/><polygon points="359.9,312.5 369.9,306.9 369.9,318.1" fill="#000080"/><polygon points="368.3,327.1 378.3,321.5 378.3,332.7" fill="#000080"/><polygon points="376.7,342.5 386.7,336.9 386.7,348.1" fill="#000080"/><polygon points="385.1,358.7 395.1,353.1 395.1,364.3" fill="#000080"/><polygon points="393.6,375.2 403.6,369.6 403.6,380.8" fill="#000080"/><polygon points="402.0,391.5 412.0,385.9 412.0,397.1" fill="#000080"/><polygon points="410.4,406.9 420.4,401.3 420.4,412.5" fill="#000080"/><polygon points="418.8,421.1 428.8,415.5 428.8,426.7" fill="#000080"/><polygon points="427.3,434.0 437.3,428.4 437.3,439.6" fill="#000080"/><polygon points="435.7,446.1 445.7,440.5 445.7,451.7" fill="#000080"/><polygon points="444.1,457.8 454.1,452.2 454.1,463.4" fill="#000080"/><polygon points="454.2,470.9 464.2,465.3 464.2,476.5" fill="#000080"/><polygon points="464.2,492.1 474.2,486.5 474.2,497.7" fill="#000080"/><polygon points="474.2,505.8 484.2,500.2 484.2,511.4" fill="#000080"/><polygon points="484.2,515.7 494.2,510.1 494.2,521.3" fill="#000080"/><polygon points="494.3,523.0 504.3,517.4 504.3,528.6" fill="#000080"/><polygon points="504.3,538.5 514.3,532.9 514.3,544.1" fill="#000080"/><polygon points="514.3,541.2 524.3,535.6 524.3,546.8" fill="#000080"/><polygon points="524.4,541.8 534.4,536.2 534.4,547.4" fill="#000080"/><polygon points="534.4,547.0 544.4,541.4 544.4,552.6" fill="#000080"/><polygon points="544.4,552.9 554.4,547.3 554.4,558.5" fill="#000080"/><polygon points="554.5,551.2 564.5,545.6 564.5,556.8" fill="#000080"/><polygon points="564.5,544.6 574.5,539.0 574.5,550.2" fill="#000080"/><polygon points="574.5,536.4 584.5,530.8 584.5,542.0" fill="#000080"/><polygon points="584.6,527.6 594.6,522.0 594.6,533.2" fill="#000080"/><polygon points="594.6,517.4 604.6,511.8 604.6,523.0" fill="#000080"/><polygon points="604.6,504.9 614.6,499.3 614.6,510.5" fill="#000080"/><polygon points="613.0,492.7 623.0,487.1 623.0,498.3" fill="#000080"/><polygon points="621.5,474.0 631.5,468.4 631.5,479.6" fill="#000080"/><polygon points="629.9,461.7 639.9,456.1 639.9,467.3" fill="#000080"/><polygon points="638.3,447.8 648.3,442.2 648.3,453.4" fill="#000080"/><polygon points="646.8,432.9 656.8,427.3 656.8,438.5" fill="#000080"/><polygon points="655.2,417.2 665.2,411.6 665.2,422.8" fill="#000080"/><polygon points="663.6,397.8 673.6,392.2 673.6,403.4" fill="#000080"/><polygon points="672.0,379.9 682.0,374.3 682.0,385.5" fill="#000080"/><polygon points="680.5,363.7 690.5,358.1 690.5,369.3" fill="#000080"/><polygon points="688.9,348.0 698.9,342.4 698.9,353.6" fill="#000080"/><polygon points="697.3,331.9 707.3,326.3 707.3,337.5" fill="#000080"/><polygon points="705.7,315.5 715.7,309.9 715.7,321.1" fill="#000080"/><polygon points="714.2,299.4 724.2,293.8 724.2,305.0" fill="#000080"/><polygon points="722.6,283.9 732.6,278.3 732.6,289.5" fill="#000080"/><polygon points="731.0,268.4 741.0,262.8 741.0,274.0" fill="#000080"/><polygon points="739.4,253.0 749.4,247.4 749.4,258.6" fill="#000080"/><polygon points="747.9,238.1 757.9,232.5 757.9,243.7" fill="#000080"/><polygon points="756.3,223.9 766.3,218.3 766.3,229.5" fill="#000080"/><polygon points="764.7,210.6 774.7,205.0 774.7,216.2" fill="#000080"/><polygon points="773.1,198.4 783.1,192.8 783.1,204.0" fill="#000080"/><polygon points="781.6,186.8 791.6,181.2 791.6,192.4" fill="#000080"/><polygon points="790.0,175.7 800.0,170.1 800.0,181.3" fill="#000080"/><polygon points="798.4,165.2 808.4,159.6 808.4,170.8" fill="#000080"/><polygon points="806.9,155.5 816.9,149.9 816.9,161.1" fill="#000080"/><polygon points="815.3,146.6 825.3,141.0 825.3,152.2" fill="#000080"/><polygon points="823.7,138.6 833.7,133.0 833.7,144.2" fill="#000080"/><polygon points="833.7,129.3 843.7,123.7 843.7,134.9" fill="#000080"/><polygon points="843.8,120.7 853.8,115.1 853.8,126.3" fill="#000080"/><polygon points="853.8,113.1 863.8,107.5 863.8,118.7" fill="#000080"/><polygon points="863.8,107.1 873.8,101.5 873.8,112.7" fill="#000080"/><polygon points="873.9,102.6 883.9,97.0 883.9,108.2" fill="#000080"/><polygon points="883.9,98.6 893.9,93.0 893.9,104.2" fill="#000080"/><polygon points="893.9,95.1 903.9,89.5 903.9,100.7" fill="#000080"/><polygon points="904.0,92.3 914.0,86.7 914.0,97.9" fill="#000080"/><polygon points="918.8,90.2 928.8,84.6 928.8,95.8" fill="#000080"/></g>
<polyline points="122.5,83.5 132.5,84.0 142.6,85.4 152.6,87.4 162.6,89.9 172.7,92.6 182.7,96.3 192.7,101.4 202.8,107.8 212.8,115.0 222.8,122.7 231.2,130.0 239.7,138.6 248.1,148.1 256.5,158.3 264.9,168.8 273.4,179.5 281.8,190.3 290.2,201.6 298.6,213.4 307.1,225.7 315.5,238.7 323.9,252.3 332.4,267.2 340.8,283.4 349.2,300.3 357.6,317.6 366.1,334.7 374.5,351.3 382.9,367.9 391.3,384.5 399.8,401.1 408.2,417.3 416.6,433.0 425.0,447.7 433.5,462.0 441.9,475.8 450.3,489.1 460.4,504.3 470.4,518.6 480.4,531.7 490.4,543.3 500.5,550.7 510.5,554.8 520.5,555.5 530.6,555.5 540.6,555.3 550.6,549.5 560.7,537.6 570.7,529.1 580.7,518.4 590.8,504.6 600.8,484.9 610.8,466.6 619.2,454.1 627.7,440.0 636.1,423.9 644.5,405.1 653.0,386.2 661.4,372.4 669.8,356.6 678.2,341.8 686.7,326.3 695.1,310.1 703.5,293.6 711.9,277.3 720.4,261.8 728.8,247.1 737.2,232.6 745.6,218.5 754.1,204.9 762.5,192.1 770.9,180.3 779.3,169.6 787.8,159.5 796.2,150.0 804.6,141.1 813.1,133.0 821.5,125.6 829.9,118.9 839.9,110.9 850.0,103.6 860.0,97.3 870.0,92.7 880.1,90.1 890.1,87.9 900.1,86.0 910.2,84.6 925.0,83.8" fill="none" stroke="#8000ff" stroke-width="1.25"/>
<g><polygon points="128.7,83.5 118.7,77.9 118.7,89.1" fill="#8000ff"/><polygon points="138.7,84.0 128.7,78.4 128.7,89.6" fill="#8000ff"/><polygon points="148.8,85.4 138.8,79.8 138.8,91.0" fill="#8000ff"/><polygon points="158.8,87.4 148.8,81.8 148.8,93.0" fill="#8000ff"/><polygon points="168.8,89.9 158.8,84.3 158.8,95.5" fill="#8000ff"/><polygon points="178.9,92.6 168.9,87.0 168.9,98.2" fill="#8000ff"/><polygon points="188.9,96.3 178.9,90.7 178.9,101.9" fill="#8000ff"/><polygon points="198.9,101.4 188.9,95.8 188.9,107.0" fill="#8000ff"/><polygon points="208.9,107.8 198.9,102.2 198.9,113.4" fill="#8000ff"/><polygon points="219.0,115.0 209.0,109.4 209.0,120.6" fill="#8000ff"/><polygon points="229.0,122.7 219.0,117.1 219.0,128.3" fill="#8000ff"/><polygon points="237.4,130.0 227.4,124.4 227.4,135.6" fill="#8000ff"/><polygon points="245.9,138.6 235.9,133.0 235.9,144.2" fill="#8000ff"/><polygon points="254.3,148.1 244.3,142.5 244.3,153.7" fill="#8000ff"/><polygon points="262.7,158.3 252.7,152.7 252.7,163.9" fill="#8000ff"/><polygon points="271.1,168.8 261.1,163.2 261.1,174.4" fill="#8000ff"/><polygon points="279.6,179.5 269.6,173.9 269.6,185.1" fill="#8000ff"/><polygon points="288.0,190.3 278.0,184.7 278.0,195.9" fill="#8000ff"/><polygon points="296.4,201.6 286.4,196.0 286.4,207.2" fill="#8000ff"/><polygon points="304.8,213.4 294.8,207.8 294.8,219.0" fill="#8000ff"/><polygon points="313.3,225.7 303.3,220.1 303.3,231.3" fill="#8000ff"/><polygon points="321.7,238.7 311.7,233.1 311.7,244.3" fill="#8000ff"/><polygon points="330.1,252.3 320.1,246.7 320.1,257.9" fill="#8000ff"/><polygon points="338.6,267.2 328.6,261.6 328.6,272.8" fill="#8000ff"/><polygon points="347.0,283.4 337.0,277.8 337.0,289.0" fill="#8000ff"/><polygon points="355.4,300.3 345.4,294.7 345.4,305.9" fill="#8000ff"/><polygon points="363.8,317.6 353.8,312.0 353.8,323.2" fill="#8000ff"/><polygon points="372.3,334.7 362.3,329.1 362.3,340.3" fill="#8000ff"/><polygon points="380.7,351.3 370.7,345.7 370.7,356.9" fill="#8000ff"/><polygon points="389.1,367.9 379.1,362.3 379.1,373.5" fill="#8000ff"/><polygon points="397.5,384.5 387.5,378.9 387.5,390.1" fill="#8000ff"/><polygon points="406.0,401.1 396.0,395.5 396.0,406.7" fill="#8000ff"/><polygon points="414.4,417.3 404.4,411.7 404.4,422.9" fill="#8000ff"/><polygon points="422.8,433.0 412.8,427.4 412.8,438.6" fill="#8000ff"/><polygon points="431.2,447.7 421.2,442.1 421.2,453.3" fill="#8000ff"/><polygon points="439.7,462.0 429.7,456.4 429.7,467.6" fill="#8000ff"/><polygon points="448.1,475.8 438.1,470.2 438.1,481.4" fill="#8000ff"/><polygon points="456.5,489.1 446.5,483.5 446.5,494.7" fill="#8000ff"/><polygon points="466.6,504.3 456.6,498.7 456.6,509.9" fill="#8000ff"/><polygon points="476.6,518.6 466.6,513.0 466.6,524.2" fill="#8000ff"/><polygon points="486.6,531.7 476.6,526.1 476.6,537.3" fill="#8000ff"/><polygon points="496.6,543.3 486.6,537.7 486.6,548.9" fill="#8000ff"/><polygon points="506.7,550.7 496.7,545.1 496.7,556.3" fill="#8000ff"/><polygon points="516.7,554.8 506.7,549.2 506.7,560.4" fill="#8000ff"/><polygon points="526.7,555.5 516.7,549.9 516.7,561.1" fill="#8000ff"/><polygon points="536.8,555.5 526.8,549.9 526.8,561.1" fill="#8000ff"/><polygon points="546.8,555.3 536.8,549.7 536.8,560.9" fill="#8000ff"/><polygon points="556.8,549.5 546.8,543.9 546.8,555.1" fill="#8000ff"/><polygon points="566.9,537.6 556.9,532.0 556.9,543.2" fill="#8000ff"/><polygon points="576.9,529.1 566.9,523.5 566.9,534.7" fill="#8000ff"/><polygon points="586.9,518.4 576.9,512.8 576.9,524.0" fill="#8000ff"/><polygon points="597.0,504.6 587.0,499.0 587.0,510.2" fill="#8000ff"/><polygon points="607.0,484.9 597.0,479.3 597.0,490.5" fill="#8000ff"/><polygon points="617.0,466.6 607.0,461.0 607.0,472.2" fill="#8000ff"/><polygon points="625.4,454.1 615.4,448.5 615.4,459.7" fill="#8000ff"/><polygon points="633.9,440.0 623.9,434.4 623.9,445.6" fill="#8000ff"/><polygon points="642.3,423.9 632.3,418.3 632.3,429.5" fill="#8000ff"/><polygon points="650.7,405.1 640.7,399.5 640.7,410.7" fill="#8000ff"/><polygon points="659.2,386.2 649.2,380.6 649.2,391.8" fill="#8000ff"/><polygon points="667.6,372.4 657.6,366.8 657.6,378.0" fill="#8000ff"/><polygon points="676.0,356.6 666.0,351.0 666.0,362.2" fill="#8000ff"/><polygon points="684.4,341.8 674.4,336.2 674.4,347.4" fill="#8000ff"/><polygon points="692.9,326.3 682.9,320.7 682.9,331.9" fill="#8000ff"/><polygon points="701.3,310.1 691.3,304.5 691.3,315.7" fill="#8000ff"/><polygon points="709.7,293.6 699.7,288.0 699.7,299.2" fill="#8000ff"/><polygon points="718.1,277.3 708.1,271.7 708.1,282.9" fill="#8000ff"/><polygon points="726.6,261.8 716.6,256.2 716.6,267.4" fill="#8000ff"/><polygon points="735.0,247.1 725.0,241.5 725.0,252.7" fill="#8000ff"/><polygon points="743.4,232.6 733.4,227.0 733.4,238.2" fill="#8000ff"/><polygon points="751.8,218.5 741.8,212.9 741.8,224.1" fill="#8000ff"/><polygon points="760.3,204.9 750.3,199.3 750.3,210.5" fill="#8000ff"/><polygon points="768.7,192.1 758.7,186.5 758.7,197.7" fill="#8000ff"/><polygon points="777.1,180.3 767.1,174.7 767.1,185.9" fill="#8000ff"/><polygon points="785.5,169.6 775.5,164.0 775.5,175.2" fill="#8000ff"/><polygon points="794.0,159.5 784.0,153.9 784.0,165.1" fill="#8000ff"/><polygon points="802.4,150.0 792.4,144.4 792.4,155.6" fill="#8000ff"/><polygon points="810.8,141.1 800.8,135.5 800.8,146.7" fill="#8000ff"/><polygon points="819.3,133.0 809.3,127.4 809.3,138.6" fill="#8000ff"/><polygon points="827.7,125.6 817.7,120.0 817.7,131.2" fill="#8000ff"/><polygon points="836.1,118.9 826.1,113.3 826.1,124.5" fill="#8000ff"/><polygon points="846.1,110.9 836.1,105.3 836.1,116.5" fill="#8000ff"/><polygon points="856.2,103.6 846.2,98.0 846.2,109.2" fill="#8000ff"/><polygon points="866.2,97.3 856.2,91.7 856.2,102.9" fill="#8000ff"/><polygon points="876.2,92.7 866.2,87.1 866.2,98.3" fill="#8000ff"/><polygon points="886.3,90.1 876.3,84.5 876.3,95.7" fill="#8000ff"/><polygon points="896.3,87.9 886.3,82.3 886.3,93.5" fill="#8000ff"/><polygon points="906.3,86.0 896.3,80.4 896.3,91.6" fill="#8000ff"/><polygon points="916.4,84.6 906.4,79.0 906.4,90.2" fill="#8000ff"/><polygon points="931.2,83.8 921.2,78.2 921.2,89.4" fill="#8000ff"/></g>
</g>
<path d="M120.9,11.7 L925.0,11.7 L925.0,659.2" fill="none" stroke="#000" stroke-width="3.2" stroke-linejoin="miter"/>
<g font-size="32"><text x="380" y="733.2">Ground</text><text x="489.5" y="733.2" letter-spacing="0.2">position</text><text x="604.8" y="733.2" letter-spacing="2.4">(m)</text></g>
<text transform="translate(29.8,332.6) rotate(-90)" font-size="32" text-anchor="middle" textLength="382.5" lengthAdjust="spacing">Ground settlement value (m)</text>
<rect x="752.1" y="338.0" width="153.89999999999998" height="288.0" fill="#fff"/>
<rect x="905.0" y="338.9" width="1.7" height="289.8" fill="#555"/>
<rect x="906.7" y="338.9" width="2.0" height="289.8" fill="#8c8c8c"/>
<rect x="751.3" y="625.0" width="157.4" height="1.7" fill="#636363"/>
<rect x="751.3" y="626.7" width="157.4" height="2.0" fill="#858585"/>
<path d="M752.1,627.2 L752.1,338.0 L907.0,338.0" fill="none" stroke="#111" stroke-width="1.9" stroke-linejoin="miter"/>
<line x1="756.8" y1="361.0" x2="832" y2="361.0" stroke="#000000" stroke-width="1.9"/>
<rect x="789.1" y="356.4" width="8.3" height="9.1" fill="#000000"/>
<text x="849.2" y="374.9" font-size="30.5" letter-spacing="1.1">0°</text>
<line x1="756.8" y1="401.6" x2="832" y2="401.6" stroke="#ff0000" stroke-width="1.9"/>
<ellipse cx="793.3" cy="401.6" rx="3.95" ry="4.3" fill="#ff0000"/>
<text x="851.8" y="415.5" font-size="30.5" letter-spacing="1.1">15°</text>
<line x1="756.8" y1="442.1" x2="832" y2="442.1" stroke="#0000ff" stroke-width="1.9"/>
<polygon points="793.3,435.7 798.5,445.8 788.1,445.8" fill="#0000ff"/>
<text x="851.8" y="456.0" font-size="30.5" letter-spacing="1.1">30°</text>
<line x1="756.8" y1="482.7" x2="832" y2="482.7" stroke="#ff00ff" stroke-width="1.9"/>
<polygon points="793.3,489.1 798.5,479.0 788.1,479.0" fill="#ff00ff"/>
<text x="851.8" y="496.6" font-size="30.5" letter-spacing="1.1">45°</text>
<line x1="756.8" y1="523.3" x2="832" y2="523.3" stroke="#008000" stroke-width="3.2" stroke-opacity="0.55"/>
<polygon points="793.3,517.6 798.6,523.3 793.3,529.0 788.0,523.3" fill="#008000"/>
<text x="851.8" y="537.2" font-size="30.5" letter-spacing="1.1">60°</text>
<line x1="756.8" y1="563.9" x2="832" y2="563.9" stroke="#000080" stroke-width="3.2" stroke-opacity="0.55"/>
<polygon points="787.1,563.9 797.1,558.2 797.1,569.5" fill="#000080"/>
<text x="851.8" y="577.8" font-size="30.5" letter-spacing="1.1">75°</text>
<line x1="756.8" y1="604.4" x2="832" y2="604.4" stroke="#8000ff" stroke-width="1.9"/>
<polygon points="799.5,604.4 789.5,598.8 789.5,610.0" fill="#8000ff"/>
<text x="851.8" y="618.3" font-size="30.5" letter-spacing="1.1">90°</text>
</svg>
</body></html>
